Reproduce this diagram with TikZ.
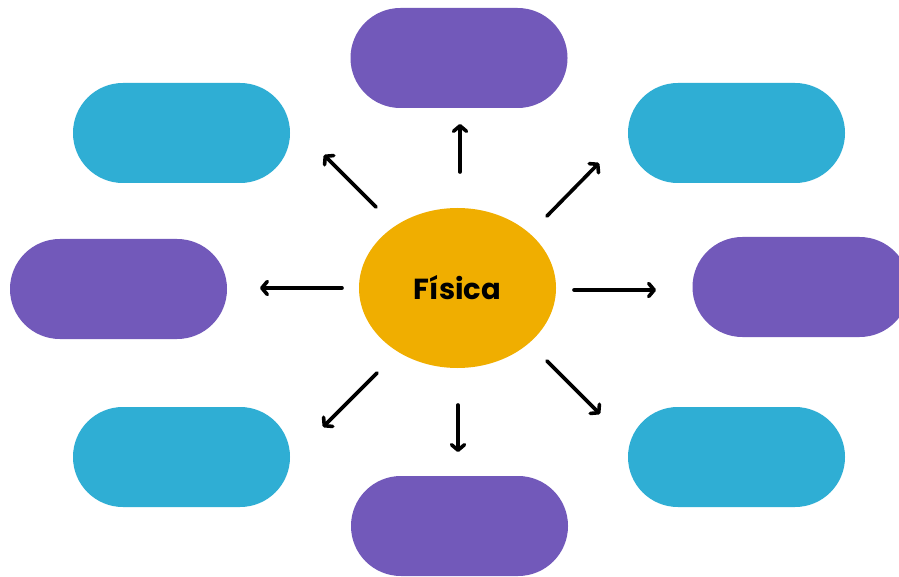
\documentclass[tikz,border=0pt]{standalone}
\usepackage{fontspec}
\setmainfont{Poppins}
\usetikzlibrary{arrows.meta,shapes.geometric}
\definecolor{pillpurple}{HTML}{7259BA}
\definecolor{pillcyan}{HTML}{2FAED4}
\definecolor{gold}{HTML}{F0AE00}
\tikzset{
  pill/.style={rectangle, rounded corners=49.9pt, minimum width=217pt, minimum height=100pt, inner sep=0pt, draw=none},
  ppill/.style={pill, fill=pillpurple},
  cpill/.style={pill, fill=pillcyan},
  hub/.style={ellipse, fill=gold, minimum width=197pt, minimum height=160pt, inner sep=0pt, font=\fontsize{29}{31}\selectfont\bfseries},
  arr/.style={line width=3.6pt, line cap=round, line join=round, -{Straight Barb[length=5.5pt, width=13pt, line cap=round, line join=round]}}
}
\begin{document}
\begin{tikzpicture}[x=1pt,y=-1pt]
\clip (0,0) rectangle (899,577);
\useasboundingbox (0,0) rectangle (899,577);
\fill[white] (0,0) rectangle (899,577);
% pills
\node[ppill] (top) at (459,58) {};
\node[cpill] (tl) at (181.5,133) {};
\node[cpill] (tr) at (736.5,133) {};
\node[ppill] (l) at (118.5,289) {};
\node[ppill] (r) at (801,287) {};
\node[cpill] (bl) at (181.5,457) {};
\node[cpill] (br) at (736.5,457) {};
\node[ppill] (bot) at (459.5,526) {};
% hub
\node[hub] (c) at (457.5,288) {\raisebox{-1.5pt}{Física}};
% arrow coordinates
\coordinate (uS) at (460,172); \coordinate (uE) at (460,124);
\coordinate (ulS) at (376,207); \coordinate (ulE) at (324,155);
\coordinate (urS) at (547,216); \coordinate (urE) at (599,163);
\coordinate (lS) at (342,288); \coordinate (lE) at (260,288);
\coordinate (rS) at (574,290); \coordinate (rE) at (656,290);
\coordinate (dlS) at (377,373); \coordinate (dlE) at (323,427);
\coordinate (dS) at (458,405); \coordinate (dE) at (458,452);
\coordinate (drS) at (547,361); \coordinate (drE) at (600,414);
\draw[arr] (uS) -- (uE);
\draw[arr] (ulS) -- (ulE);
\draw[arr] (urS) -- (urE);
\draw[arr] (lS) -- (lE);
\draw[arr] (rS) -- (rE);
\draw[arr] (dlS) -- (dlE);
\draw[arr] (dS) -- (dE);
\draw[arr] (drS) -- (drE);
\end{tikzpicture}
\end{document}
